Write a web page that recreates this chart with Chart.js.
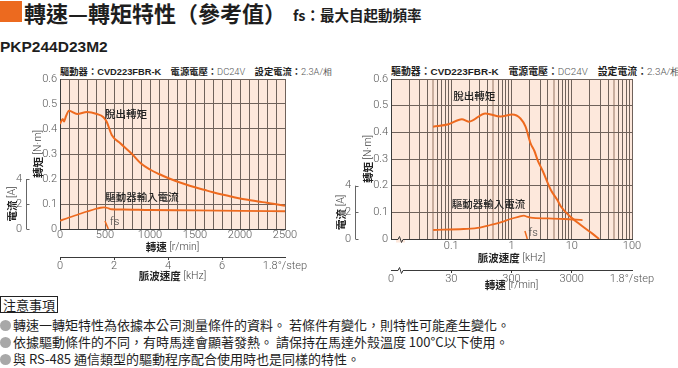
<!DOCTYPE html>
<html>
<head>
<meta charset="utf-8">
<script src="https://cdn.jsdelivr.net/npm/chart.js@4.4.1/dist/chart.umd.min.js"></script>
<style>
  body { margin: 0; width: 678px; height: 368px; background: #fff; position: relative; overflow: hidden; font-family: "Noto Sans CJK TC", sans-serif; color: #1e1e1e; }
  .abs { position: absolute; white-space: nowrap; }
  canvas { position: absolute; }
  .hd b { font-weight: bold; }
  .hd .en { font-family: "Liberation Sans", Arial, sans-serif; font-weight: bold; }
  .hd .lt { font-family: Roboto, "Liberation Sans", sans-serif; font-weight: 300; color: #555; }
  .dot { display: inline-block; width: 11px; height: 11px; border-radius: 50%; background: #a8a8a8; margin-right: 2px; vertical-align: -1px; }
</style>
</head>
<body>
<div class="abs" style="left:0;top:1px;width:22px;height:21px;background:#ec6a1f"></div>
<div class="abs" style="left:24px;top:-2px;font-size:22px;font-weight:bold;line-height:28px">轉速—轉矩特性（參考值）</div>
<div class="abs" style="left:293px;top:4px;font-size:14.5px;font-weight:bold;line-height:22px">fs：最大自起動頻率</div>
<div class="abs" style="left:0;top:37px;font-family:'Liberation Sans',Arial,sans-serif;font-size:15.5px;font-weight:bold;line-height:20px">PKP244D23M2</div>

<div class="abs hd" style="left:60px;top:63px;font-size:9.3px;line-height:16px"><b>驅動器：</b><span class="en">CVD223FBR-K</span>　<b>電源電壓：</b><span class="lt">DC24V</span>　<b>設定電流：</b><span class="lt">2.3A/相</span></div>
<div class="abs hd" style="left:391px;top:63px;font-size:9.9px;line-height:16px"><b>驅動器：</b><span class="en">CVD223FBR-K</span>　<b>電源電壓：</b><span class="lt">DC24V</span>　<b>設定電流：</b><span class="lt">2.3A/相</span></div>

<canvas id="leftChart" width="330" height="233" style="left:0;top:62px"></canvas>
<canvas id="rightChart" width="348" height="233" style="left:330px;top:62px"></canvas>

<div class="abs" style="left:0;top:296px;height:15px;border:1px solid #222;padding:0 2px;font-size:13px;line-height:15px">注意事項</div>
<div class="abs" style="left:0;top:316px;font-size:13px;line-height:17px">
  <div><span class="dot"></span>轉速一轉矩特性為依據本公司測量條件的資料。 若條件有變化，則特性可能產生變化。</div>
  <div><span class="dot"></span>依據驅動條件的不同，有時馬達會顯著發熱。 請保持在馬達外殼溫度 100°C以下使用。</div>
  <div><span class="dot"></span>與 RS-485 通信類型的驅動程序配合使用時也是同樣的特性。</div>
</div>

<script>
// ---- data ----
// left chart: speed [r/min]
const leftSpeed = [0, 30, 45, 65, 100, 190, 300, 410, 480, 520, 575, 670, 800, 900, 1000, 1100, 1200, 1300, 1400, 1500, 1600, 1700, 1800, 1900, 2000, 2100, 2200, 2300, 2400, 2500];
const leftTorque = [0.42, 0.44, 0.43, 0.45, 0.473, 0.46, 0.468, 0.46, 0.448, 0.428, 0.376, 0.343, 0.300, 0.262, 0.238, 0.220, 0.204, 0.190, 0.178, 0.167, 0.157, 0.147, 0.138, 0.130, 0.122, 0.116, 0.110, 0.105, 0.099, 0.093];
const leftCurrentSpeed = [0, 100, 200, 300, 400, 450, 490, 530, 570, 700, 1000, 1500, 2000, 2500];
const leftCurrent = [0.66, 0.92, 1.16, 1.40, 1.62, 1.70, 1.73, 1.68, 1.58, 1.56, 1.52, 1.49, 1.45, 1.42];
const leftFsSpeed = [500, 537];
const leftFsTorque = [0.032, 0];

// right chart: pulse speed [kHz]
const rightFreq = [0.05, 0.09, 0.15, 0.195, 0.37, 0.66, 1.03, 1.41, 1.71, 2.07, 2.4, 2.71, 3.3, 4.5, 5.8, 6.6, 9.4, 12, 16, 22, 28.5];
const rightTorque = [0.421, 0.43, 0.449, 0.44, 0.471, 0.459, 0.467, 0.452, 0.421, 0.359, 0.33, 0.296, 0.255, 0.184, 0.145, 0.122, 0.084, 0.065, 0.043, 0.02, 0];
const rightCurrentFreq = [0.05, 0.16, 0.3, 0.445, 0.7, 0.96, 1.3, 1.61, 1.8, 2.07, 4, 7.5, 15.1];
const rightCurrent = [0.675, 0.75, 0.85, 1.05, 1.28, 1.5, 1.66, 1.75, 1.68, 1.6, 1.54, 1.5, 1.42];
const rightFsFreq = [1.67, 1.83];
const rightFsTorque = [0.03, 0];

// ticks
const torqueTicks = [0, 0.1, 0.2, 0.3, 0.4, 0.5, 0.6];
const currentTicks = [0, 2, 4];
const leftSpeedLabels = [0, 500, 1000, 1500, 2000, 2500];
const leftPulseTicks = [0, 2, 4, 6];
const rightFreqLabels = [0.1, 1, 10, 100];
const rightSpeedTicks = [30, 300, 3000];
const stepLabel = '1.8°/step';

// ---- styles ----
const ORANGE = '#ee6a1f';
const BG = '#fde8dc';
const GRID = '#6f625b';
const TAN = '#c9ae9f';
const AXIS = '#3a3a3a';
const TICK_COLOR = '#555';
const NARROW = 'Roboto, "Liberation Sans", sans-serif';
const TICK_FONT = {family: NARROW, size: 11, weight: 300};
const T_CJK = 'bold 10.5px "Noto Sans CJK TC", sans-serif';
const T_LAT = '300 10.5px ' + NARROW;
const NOTE_FONT = '500 10.5px "Noto Sans CJK TC", sans-serif';

function line(xs, ys, yAxis, width) {
  return {
    data: xs.map((x, i) => ({x: x, y: ys[i]})),
    xAxisID: 'x', yAxisID: yAxis,
    borderColor: ORANGE, borderWidth: width, pointRadius: 0,
    cubicInterpolationMode: 'monotone', fill: false
  };
}

function torqueScale(width) {
  return {
    type: 'linear', position: 'left', min: 0, max: 0.6,
    afterBuildTicks: s => { s.ticks = torqueTicks.map(v => ({value: v})); },
    ticks: {color: TICK_COLOR, font: TICK_FONT, padding: 3, callback: v => v === 0 ? '0' : v.toFixed(1)},
    grid: {color: GRID, lineWidth: 1, drawTicks: false},
    border: {color: AXIS},
    afterFit: s => { s.width = width; s.paddingTop = 0; s.paddingBottom = 0; }
  };
}

function currentScale(width) {
  return {
    type: 'linear', position: 'left', min: 0, max: 12,
    afterBuildTicks: s => { s.ticks = currentTicks.map(v => ({value: v})); },
    ticks: {color: TICK_COLOR, font: TICK_FONT, padding: 5, callback: v => String(v)},
    grid: {display: false, drawTicks: false},
    border: {display: false},
    afterFit: s => { s.width = width; s.paddingTop = 0; s.paddingBottom = 0; }
  };
}

function mixed(ctx, parts, cx, cy, rot) {
  ctx.save();
  ctx.translate(cx, cy);
  if (rot) ctx.rotate(-Math.PI / 2);
  let w = 0;
  parts.forEach(p => { ctx.font = p[1]; w += ctx.measureText(p[0]).width; });
  let x = -w / 2;
  ctx.textBaseline = 'middle';
  ctx.textAlign = 'left';
  parts.forEach(p => {
    ctx.font = p[1]; ctx.fillStyle = p[2];
    ctx.fillText(p[0], x, 0);
    x += ctx.measureText(p[0]).width;
  });
  ctx.restore();
}

function zig(ctx, x, y, below) {
  ctx.fillStyle = below;
  ctx.fillRect(x - 1, y - 3, 9, 6);
  ctx.beginPath();
  ctx.moveTo(x - 1, y); ctx.lineTo(x + 1, y);
  ctx.lineTo(x + 2.5, y - 3); ctx.lineTo(x + 4.5, y + 3); ctx.lineTo(x + 6, y); ctx.lineTo(x + 8, y);
  ctx.strokeStyle = AXIS; ctx.lineWidth = 1;
  ctx.stroke();
}

function deco(o) {
  return {
    id: 'deco',
    beforeDraw(chart) {
      const {ctx, chartArea: a} = chart;
      ctx.save();
      ctx.fillStyle = BG;
      ctx.fillRect(a.left, a.top, a.width, a.height);
      ctx.restore();
    },
    afterDraw(chart) {
      const {ctx, chartArea: a, scales} = chart;
      ctx.save();
      // short current axis (0..4 A)
      const yA = scales.yA;
      const lx = Math.round(yA.right) - 0.5;
      const yTop = yA.getPixelForValue(currentTicks[currentTicks.length - 1]);
      const yBot = yA.getPixelForValue(0);
      ctx.strokeStyle = '#666'; ctx.lineWidth = 1;
      ctx.beginPath();
      ctx.moveTo(lx, yTop); ctx.lineTo(lx, yBot);
      currentTicks.forEach(v => {
        const py = Math.round(yA.getPixelForValue(v)) + 0.5;
        ctx.moveTo(lx, py); ctx.lineTo(lx + 3, py);
      });
      ctx.stroke();

      // curve labels
      ctx.textBaseline = 'middle';
      o.notes.forEach(n => {
        ctx.font = n.fs ? '300 11px ' + NARROW : NOTE_FONT;
        ctx.fillStyle = n.fs ? '#444' : '#222';
        ctx.textAlign = n.fs ? 'left' : 'center';
        ctx.fillText(n.text, scales.x.getPixelForValue(n.x), scales.y.getPixelForValue(n.y));
      });

      // axis titles
      const cx = (a.left + a.right) / 2;
      mixed(ctx, o.xTitle, cx, a.bottom + o.xTitleGap, false);
      mixed(ctx, o.x2Title, cx, a.bottom + o.x2TitleGap, false);
      mixed(ctx, [['轉矩', T_CJK, '#222'], [' [N·m]', T_LAT, '#444']], a.left - o.yTitleGap, (a.top + a.bottom) / 2, true);
      mixed(ctx, [['電流', T_CJK, '#222'], [' [A]', T_LAT, '#444']], lx - 14, (yTop + yBot) / 2, true);

      if (o.breaks) {
        zig(ctx, a.left + 6, Math.round(a.bottom) + 0.5, BG);
        zig(ctx, a.left + 6, Math.round(scales.x2.top) + 0.5, '#fff');
      }
      ctx.restore();
    }
  };
}

const common = {
  responsive: false,
  animation: false,
  events: [],
  plugins: {legend: {display: false}, tooltip: {enabled: false}}
};

// ---- left chart: linear speed axis ----
new Chart(document.getElementById('leftChart'), {
  type: 'line',
  data: {
    datasets: [
      line(leftSpeed, leftTorque, 'y', 2),
      line(leftCurrentSpeed, leftCurrent, 'yA', 1.8),
      line(leftFsSpeed, leftFsTorque, 'y', 1.5)
    ]
  },
  options: Object.assign({}, common, {
    layout: {padding: {left: 0, top: 17, right: 45, bottom: 0}},
    scales: {
      x: {
        type: 'linear', position: 'bottom', min: 0, max: 2500,
        afterBuildTicks: s => { const t = []; for (let v = 0; v <= 2500; v += 100) t.push({value: v}); s.ticks = t; },
        ticks: {autoSkip: false, maxRotation: 0, color: TICK_COLOR, font: TICK_FONT, padding: 0,
                callback: v => leftSpeedLabels.includes(v) ? String(v) : ''},
        grid: {color: GRID, drawTicks: false},
        border: {color: AXIS},
        afterFit: s => { s.height = 28; s.paddingLeft = 0; s.paddingRight = 0; }
      },
      x2: {
        type: 'linear', position: 'bottom', min: 0, max: 2500 / 300,
        afterBuildTicks: s => { s.ticks = leftPulseTicks.concat([s.max]).map(v => ({value: v})); },
        ticks: {autoSkip: false, maxRotation: 0, color: TICK_COLOR, font: TICK_FONT, padding: 0,
                callback: (v, i, t) => i === t.length - 1 ? stepLabel : String(v)},
        grid: {drawOnChartArea: false, tickLength: 3, color: c => c.index === leftPulseTicks.length ? 'rgba(0,0,0,0)' : AXIS},
        border: {color: AXIS},
        afterFit: s => { s.height = 38; s.paddingLeft = 0; s.paddingRight = 0; }
      },
      y: torqueScale(33),
      yA: currentScale(27)
    }
  }),
  plugins: [deco({
    notes: [
      {text: '脫出轉矩', x: 733, y: 0.46},
      {text: '驅動器輸入電流', x: 911, y: 0.128},
      {text: 'fs', x: 556, y: 0.028, fs: true}
    ],
    xTitle: [['轉速', T_CJK, '#222'], [' [r/min]', T_LAT, '#444']],
    x2Title: [['脈波速度', T_CJK, '#222'], [' [kHz]', T_LAT, '#444']],
    xTitleGap: 18, x2TitleGap: 47, yTitleGap: 22, breaks: false
  })]
});

// ---- right chart: log pulse-speed axis ----
function logGrid(lo, hi) {
  const out = [];
  for (let e = Math.round(Math.log10(lo)); e < Math.round(Math.log10(hi)); e++) {
    for (let m = 1; m <= 9; m++) out.push(+(m * Math.pow(10, e)).toPrecision(2));
  }
  out.push(hi);
  return out;
}
const isFive = v => Math.abs(v / Math.pow(10, Math.floor(Math.log10(v) + 1e-9)) - 5) < 0.01;

new Chart(document.getElementById('rightChart'), {
  type: 'line',
  data: {
    datasets: [
      line(rightFreq, rightTorque, 'y', 2),
      line(rightCurrentFreq, rightCurrent, 'yA', 1.8),
      line(rightFsFreq, rightFsTorque, 'y', 1.5)
    ]
  },
  options: Object.assign({}, common, {
    layout: {padding: {left: 0, top: 17, right: 46, bottom: 0}},
    scales: {
      x: {
        type: 'logarithmic', position: 'bottom', min: 0.01, max: 100,
        afterBuildTicks: s => { s.ticks = logGrid(0.01, 100).map(v => ({value: v})); },
        ticks: {autoSkip: false, maxRotation: 0, color: TICK_COLOR, font: TICK_FONT, padding: 1,
                callback: v => rightFreqLabels.includes(v) ? String(v) : ''},
        grid: {color: c => isFive(c.tick.value) ? TAN : GRID, lineWidth: c => isFive(c.tick.value) ? 2 : 1, drawTicks: false},
        border: {color: AXIS},
        afterFit: s => { s.height = 31; s.paddingLeft = 0; s.paddingRight = 0; }
      },
      x2: {
        type: 'logarithmic', position: 'bottom', min: 3, max: 30000,
        afterBuildTicks: s => { s.ticks = [s.min].concat(rightSpeedTicks, [s.max]).map(v => ({value: v})); },
        ticks: {autoSkip: false, maxRotation: 0, color: TICK_COLOR, font: TICK_FONT, padding: 0,
                callback: (v, i, t) => i === 0 ? '0' : (i === t.length - 1 ? stepLabel : String(v))},
        grid: {drawOnChartArea: false, tickLength: 3,
               color: c => (c.index === 0 || c.index === rightSpeedTicks.length + 1) ? 'rgba(0,0,0,0)' : AXIS},
        border: {color: AXIS},
        afterFit: s => { s.height = 25; s.paddingLeft = 0; s.paddingRight = 0; }
      },
      y: torqueScale(35),
      yA: currentScale(26)
    }
  }),
  plugins: [deco({
    notes: [
      {text: '脫出轉矩', x: 0.242, y: 0.536},
      {text: '驅動器輸入電流', x: 0.414, y: 0.131},
      {text: 'fs', x: 1.92, y: 0.0225, fs: true}
    ],
    xTitle: [['脈波速度', T_CJK, '#222'], [' [kHz]', T_LAT, '#444']],
    x2Title: [['轉速', T_CJK, '#222'], [' [r/min]', T_LAT, '#444']],
    xTitleGap: 19, x2TitleGap: 46, yTitleGap: 23, breaks: true
  })]
});
</script>
</body>
</html>
